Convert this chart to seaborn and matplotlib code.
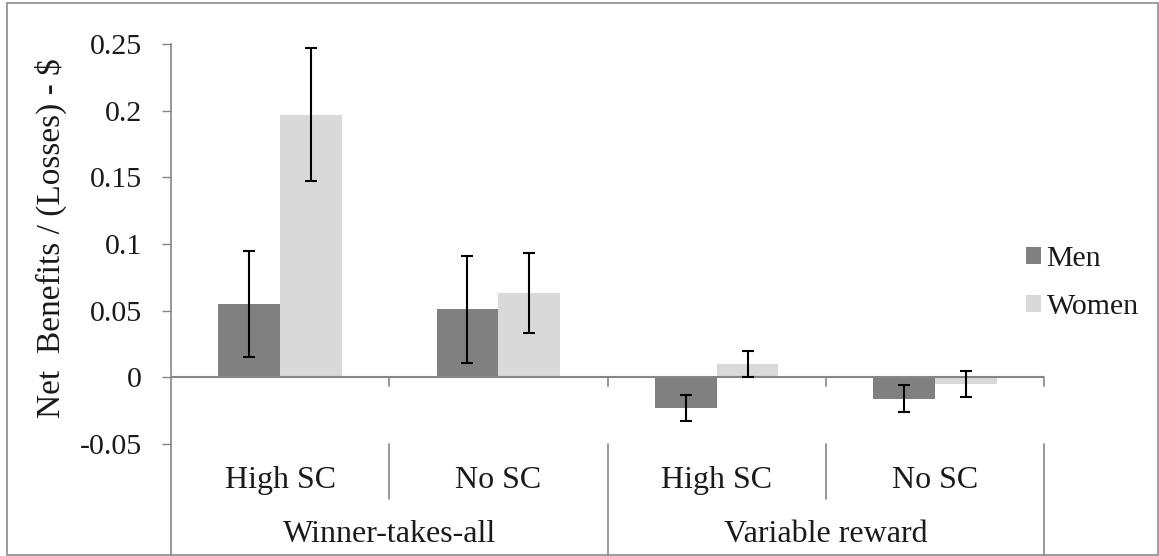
import matplotlib
matplotlib.use('Agg')
import matplotlib.pyplot as plt
from matplotlib.patches import Rectangle
import pandas as pd
import seaborn as sns

# data
groups = ['Winner-takes-all', 'Winner-takes-all', 'Variable reward', 'Variable reward']
conditions = ['High SC', 'No SC', 'High SC', 'No SC']
men = [0.055, 0.051, -0.023, -0.016]
women = [0.197, 0.063, 0.010, -0.005]
men_err = [0.040, 0.040, 0.010, 0.010]
women_err = [0.050, 0.030, 0.010, 0.010]
group_names = ['Winner-takes-all', 'Variable reward']
yticks = [-0.05, 0, 0.05, 0.1, 0.15, 0.2, 0.25]
ytick_labels = ['-0.05', '0', '0.05', '0.1', '0.15', '0.2', '0.25']

keys = [f'{g}|{c}' for g, c in zip(groups, conditions)]
df = pd.DataFrame({
    'key': keys * 2,
    'sex': ['Men'] * 4 + ['Women'] * 4,
    'value': men + women,
})

sns.set_style('white')
plt.rcParams['font.family'] = ['Liberation Serif', 'DejaVu Serif']

W, H = 1159, 556
fig = plt.figure(figsize=(W / 100, H / 100), dpi=100)
ax = fig.add_axes([171 / W, (H - 444) / H, 873 / W, 400 / H])

sns.barplot(data=df, x='key', y='value', hue='sex', order=keys,
            palette={'Men': '#808080', 'Women': '#d9d9d9'},
            width=0.566, errorbar=None, ax=ax, linewidth=0, saturation=1)

for cont, errs in zip(ax.containers, [men_err, women_err]):
    xs = [b.get_x() + b.get_width() / 2 for b in cont]
    ys = [b.get_y() + b.get_height() for b in cont]
    ax.errorbar(xs, ys, yerr=errs, fmt='none', ecolor='black',
                elinewidth=1.5, capsize=4.3, capthick=1.5, zorder=5)

grey = '#868686'
txt = '#1a1a1a'
ax.set_xlim(-0.5, 3.5)
ax.set_ylim(-0.05, 0.25)
ax.set_yticks(yticks)
ax.set_yticklabels(ytick_labels)
ax.tick_params(axis='y', direction='out', length=6.5, width=1, color=grey,
               labelsize=21.5, labelcolor=txt, pad=14.4, left=True)
ax.set_xticks([])
ax.set_xlabel('')
ax.set_ylabel('')
for s in ['top', 'right', 'bottom']:
    ax.spines[s].set_visible(False)
ax.spines['left'].set_color(grey)
ax.spines['left'].set_linewidth(1.2)

fig.text(60 / W, (H - 238) / H, 'Net  Benefits / (Losses) - $', rotation=90,
         rotation_mode='anchor', ha='center', va='baseline', fontsize=24, color=txt)

# zero line with small ticks
ax.axhline(0, color=grey, lw=1.5, zorder=1)
for x in [0.5, 1.5, 2.5, 3.5]:
    ax.plot([x, x], [0, -0.00675], color=grey, lw=1.2, clip_on=False)

# multi-level category axis below the plot
trans = ax.get_xaxis_transform()
for i, c in enumerate(conditions):
    ax.text(i, -0.11, c, transform=trans, ha='center', va='baseline',
            fontsize=23, color=txt)
for j, g in enumerate(group_names):
    ax.text(2 * j + 0.5, -0.245, g, transform=trans, ha='center', va='baseline',
            fontsize=23, color=txt)
for x in [0.5, 2.5]:
    ax.plot([x, x], [0, -0.1375], transform=trans, color=grey, lw=1.2, clip_on=False)
for x in [-0.5, 1.5, 3.5]:
    ax.plot([x, x], [0, -0.29], transform=trans, color=grey, lw=1.2, clip_on=False)

leg = ax.legend(loc='center left', bbox_to_anchor=(0.979, 0.4025), frameon=False,
                fontsize=21.5, handlelength=0.5, handleheight=0.5,
                handletextpad=0.2, labelspacing=0.75, borderpad=0, borderaxespad=0)
for t in leg.get_texts():
    t.set_color(txt)

fig.patches.append(Rectangle((7 / W, 1 / H), 1151 / W, 552 / H, transform=fig.transFigure,
                             fill=False, edgecolor='#8c8c8c', lw=1.2, zorder=0))

fig.savefig('out.png', dpi=100)
